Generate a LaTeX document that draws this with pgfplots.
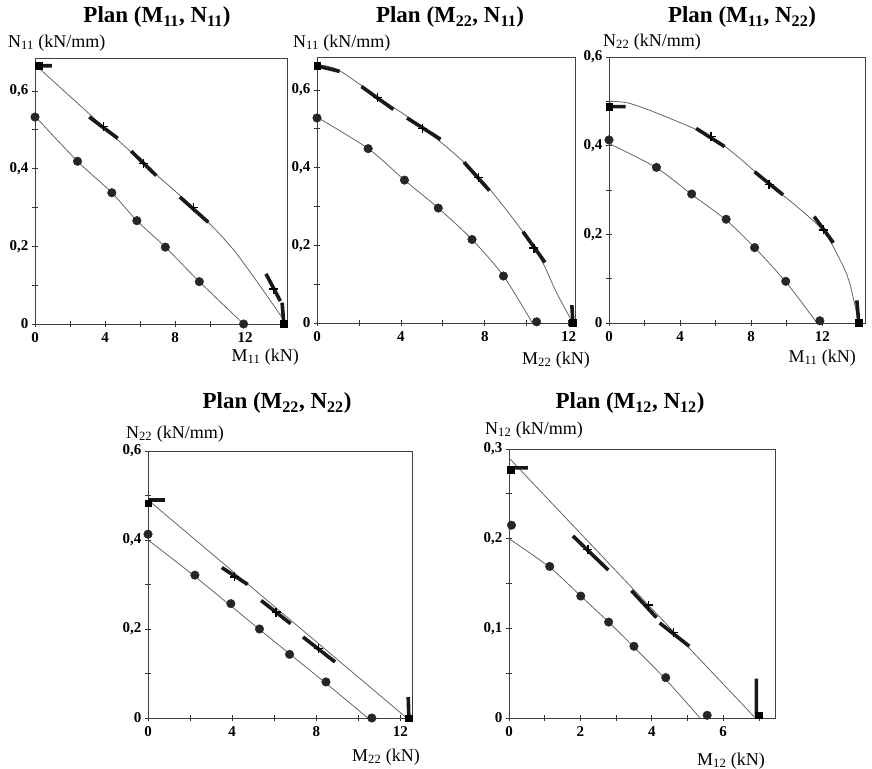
\documentclass[border=0pt]{standalone}
\usepackage{fontspec}
\setmainfont{Liberation Serif}
\usepackage{pgfplots}
\pgfplotsset{compat=1.18}

\pgfplotsset{
  plan/.style={scale only axis, anchor=south west, xmin=0, ymin=0, clip=false,
    axis line style={line width=0.9bp, black!75},
    tick style={line width=0.8bp, black!80}, tick align=center, tick pos=left,
    major tick length=6bp, minor tick length=6bp,
    ticklabel style={font=\fontsize{15bp}{17bp}\selectfont\bfseries},
    xticklabel style={yshift=-2bp},
    /pgf/number format/assume math mode=true, /pgf/number format/use comma,
    yticklabel style={/pgf/number format/fixed, /pgf/number format/precision=1}},
  curve/.style={black!60, line width=0.8bp, no marks, smooth},
  dots/.style={only marks, mark=*, mark size=4.3bp, black!85},
  seg/.style={black!90, line width=3.6bp, no marks, unbounded coords=jump},
  crs/.style={only marks, mark=+, mark size=4.5bp, black, line width=1.3bp},
  sq/.style={only marks, mark=square*, mark size=3.3bp, black},
}
\newcommand{\ttl}[1]{\fontsize{23bp}{27bp}\selectfont\bfseries #1}
\newcommand{\lbl}[1]{\fontsize{18bp}{21bp}\selectfont #1}

\begin{document}
\begin{tikzpicture}
\useasboundingbox (0,0) rectangle (872bp,769bp);

% Plan (M11, N11)
\begin{axis}[plan, at={(35bp,445bp)}, width=252bp, height=266bp,
  xmax=14.4, ymax=0.685, xtick={0,4,8,12}, minor xtick={2,6,10},
  ytick={0,0.2,0.4,0.6}, minor ytick={0.1,0.3,0.5}]
\addplot[curve] coordinates {(0,0.535) (2.43,0.419) (4.39,0.338) (5.82,0.266) (7.45,0.198) (9.39,0.109) (11.92,0)};
\addplot[dots] coordinates {(0,0.533) (2.43,0.419) (4.39,0.338) (5.82,0.266) (7.45,0.198) (9.39,0.109) (11.92,0)};
\addplot[curve] coordinates {(0,0.668) (3.91,0.508) (6.21,0.413) (9.04,0.300) (11.4,0.188) (14.25,0.008)};
\addplot[seg] coordinates {(0,0.665) (0.96,0.665) (nan,nan) (3.10,0.533) (4.73,0.478) (nan,nan)
  (5.50,0.445) (6.93,0.382) (nan,nan) (8.28,0.327) (9.90,0.262) (nan,nan)
  (13.2,0.129) (14.02,0.059) (nan,nan) (14.12,0.055) (14.21,0.004)};
\addplot[crs] coordinates {(3.91,0.508) (6.21,0.413) (9.04,0.300) (13.64,0.090)};
\addplot[sq] coordinates {(0.2,0.665) (14.21,0)};
\end{axis}

% Plan (M22, N11)
\begin{axis}[plan, at={(317bp,446bp)}, width=258bp, height=266bp,
  xmax=12.3, ymax=0.685, xtick={0,4,8,12}, minor xtick={2,6,10},
  ytick={0,0.2,0.4,0.6}, minor ytick={0.1,0.3,0.5}]
\addplot[curve] coordinates {(0,0.530) (2.44,0.449) (4.17,0.368) (5.78,0.296) (7.39,0.215) (8.89,0.121) (10.27,0)};
\addplot[dots] coordinates {(0,0.528) (2.44,0.449) (4.17,0.368) (5.78,0.296) (7.39,0.215) (8.89,0.121) (10.47,0.003)};
\addplot[curve] coordinates {(0,0.665) (1,0.652) (2.89,0.582) (5.04,0.503) (7.71,0.377) (10.34,0.195) (11.43,0.077) (12.2,0)};
\addplot[seg] coordinates {(0,0.662) (1.08,0.648) (nan,nan) (2.12,0.609) (3.64,0.550) (nan,nan)
  (4.29,0.528) (5.89,0.473) (nan,nan) (7.01,0.414) (8.22,0.341) (nan,nan)
  (9.82,0.235) (10.87,0.156) (nan,nan) (12.15,0.046) (12.2,0)};
\addplot[crs] coordinates {(2.89,0.580) (5.04,0.500) (7.71,0.375) (10.34,0.193)};
\addplot[sq] coordinates {(0,0.662) (12.2,0)};
\end{axis}

% Plan (M11, N22)
\begin{axis}[plan, at={(609bp,446bp)}, width=256bp, height=266bp,
  xmax=14.4, ymax=0.6, xtick={0,4,8,12}, minor xtick={2,6,10},
  ytick={0,0.2,0.4,0.6}, minor ytick={0.1,0.3,0.5}]
\addplot[curve] coordinates {(0,0.405) (2.67,0.350) (4.65,0.290) (6.59,0.232) (8.19,0.170) (9.94,0.093) (11.7,0)};
\addplot[dots] coordinates {(0,0.413) (2.67,0.351) (4.65,0.291) (6.59,0.234) (8.19,0.170) (9.94,0.094) (11.86,0.005)};
\addplot[curve] coordinates {(0,0.500) (1.2,0.495) (3.4,0.462) (5.74,0.420) (7.4,0.370) (9.0,0.313) (10.5,0.265) (12.05,0.208) (12.9,0.150) (13.5,0.095) (14.05,0)};
\addplot[seg] coordinates {(0,0.488) (0.94,0.488) (nan,nan) (4.90,0.439) (6.50,0.398) (nan,nan)
  (8.19,0.341) (9.79,0.289) (nan,nan) (11.54,0.240) (12.62,0.181) (nan,nan)
  (13.94,0.051) (14.05,0)};
\addplot[crs] coordinates {(5.74,0.420) (9.0,0.313) (12.05,0.210)};
\addplot[sq] coordinates {(0,0.488) (14.05,0)};
\end{axis}

% Plan (M22, N22)
\begin{axis}[plan, at={(148bp,51bp)}, width=264bp, height=267bp,
  xmax=12.55, ymax=0.6, xtick={0,4,8,12}, minor xtick={2,6,10},
  ytick={0,0.2,0.4,0.6}, minor ytick={0.1,0.3,0.5}]
\addplot[curve] coordinates {(0,0.400) (2.23,0.318) (5.3,0.199) (8.46,0.078) (10.45,0)};
\addplot[dots] coordinates {(0,0.413) (2.23,0.321) (3.94,0.257) (5.30,0.200) (6.73,0.143) (8.46,0.081) (10.64,0)};
\addplot[curve] coordinates {(0,0.490) (12.3,0)};
\addplot[seg] coordinates {(0,0.490) (0.8,0.490) (nan,nan) (3.51,0.338) (4.74,0.300) (nan,nan)
  (5.38,0.264) (6.78,0.212) (nan,nan) (7.37,0.182) (8.89,0.126) (nan,nan)
  (12.37,0.047) (12.4,0)};
\addplot[crs] coordinates {(4.1,0.317) (6.09,0.238) (8.09,0.156)};
\addplot[sq] coordinates {(0,0.483) (12.4,0)};
\end{axis}

% Plan (M12, N12)
\begin{axis}[plan, at={(509bp,51bp)}, width=266bp, height=269bp,
  xmax=7.45, ymax=0.3, xtick={0,2,4,6}, minor xtick={1,3,5,7},
  ytick={0,0.1,0.2,0.3}, minor ytick={0.05,0.15,0.25}]
\addplot[curve] coordinates {(0,0.200) (1.14,0.168) (2.01,0.136) (2.79,0.107) (3.5,0.079) (4.39,0.043) (5.35,0)};
\addplot[dots] coordinates {(0.07,0.215) (1.14,0.169) (2.01,0.136) (2.79,0.107) (3.5,0.080) (4.39,0.045) (5.55,0.003)};
\addplot[curve] coordinates {(0,0.290) (6.9,0)};
\addplot[seg] coordinates {(0,0.279) (0.53,0.279) (nan,nan) (1.79,0.203) (2.78,0.165) (nan,nan)
  (3.43,0.142) (4.13,0.112) (nan,nan) (4.22,0.106) (5.05,0.080) (nan,nan)
  (6.93,0.044) (6.93,0.003)};
\addplot[crs] coordinates {(2.21,0.188) (3.9,0.126) (4.6,0.095)};
\addplot[sq] coordinates {(0.04,0.277) (7.0,0.003)};
\end{axis}

% titles and axis labels
\node at (157bp,752bp) {\ttl{Plan (M\textsubscript{11}, N\textsubscript{11})}};
\node at (450bp,752bp) {\ttl{Plan (M\textsubscript{22}, N\textsubscript{11})}};
\node at (742bp,752bp) {\ttl{Plan (M\textsubscript{11}, N\textsubscript{22})}};
\node at (277bp,366bp) {\ttl{Plan (M\textsubscript{22}, N\textsubscript{22})}};
\node at (630bp,366bp) {\ttl{Plan (M\textsubscript{12}, N\textsubscript{12})}};

\node[anchor=west, inner sep=0pt] at (8bp,726bp) {\lbl{N\textsubscript{11} (kN/mm)}};
\node[anchor=west, inner sep=0pt] at (293bp,726bp) {\lbl{N\textsubscript{11} (kN/mm)}};
\node[anchor=west, inner sep=0pt] at (603bp,727bp) {\lbl{N\textsubscript{22} (kN/mm)}};
\node[anchor=west, inner sep=0pt] at (126bp,335bp) {\lbl{N\textsubscript{22} (kN/mm)}};
\node[anchor=west, inner sep=0pt] at (485bp,339bp) {\lbl{N\textsubscript{12} (kN/mm)}};

\node[anchor=east, inner sep=0pt] at (299bp,412bp) {\lbl{M\textsubscript{11} (kN)}};
\node[anchor=east, inner sep=0pt] at (590bp,409bp) {\lbl{M\textsubscript{22} (kN)}};
\node[anchor=east, inner sep=0pt] at (856bp,411bp) {\lbl{M\textsubscript{11} (kN)}};
\node[anchor=east, inner sep=0pt] at (420bp,12bp) {\lbl{M\textsubscript{22} (kN)}};
\node[anchor=east, inner sep=0pt] at (765bp,8bp) {\lbl{M\textsubscript{12} (kN)}};
\end{tikzpicture}
\end{document}
